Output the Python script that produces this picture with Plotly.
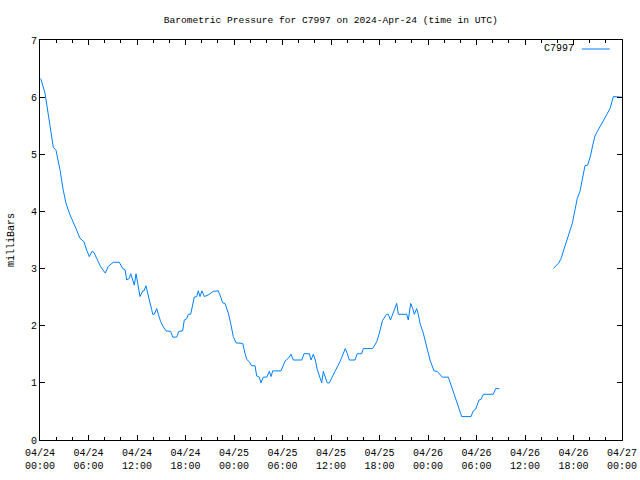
import pandas as pd
import plotly.graph_objects as go

start = pd.Timestamp("2024-04-24 00:00")

# hours since 2024-04-24 00:00 UTC (None = data gap)
hours = [0, 0.12, 0.62, 1.03, 1.32, 1.65, 1.98, 2.47, 2.88, 3.22, 3.71, 4.12, 4.45, 4.95,
         5.44, 5.78, 6.10, 6.43, 6.68, 7.01, 7.51, 8.08, 8.45, 9.07, 9.81, 10.23, 10.52,
         10.73, 11.05, 11.22, 11.47, 11.67, 11.88, 12.04, 12.21, 12.37, 12.71, 12.87, 13.11,
         13.27, 13.52, 13.82, 13.94, 14.14, 14.44, 14.64, 14.93, 15.25, 15.59, 16.17, 16.42,
         16.91, 17.16, 17.65, 17.85, 18.15, 18.35, 18.64, 18.89, 19.09, 19.39, 19.58, 19.79,
         20.04, 20.33, 20.82, 21.44, 22.06, 22.36, 22.60, 22.89, 23.30, 23.59, 23.91, 24.25,
         25.08, 25.36, 25.57, 25.89, 26.19, 26.60, 26.81, 27.13, 27.34, 27.63, 28.05, 28.37,
         28.58, 28.79, 29.81, 30.31, 30.72, 31.05, 31.34, 32.38, 32.66, 33.32, 33.53, 33.81,
         34.06, 34.31, 34.64, 34.85, 35.05, 35.26, 35.54, 35.79, 36.09, 36.49, 37.11, 37.52,
         37.77, 38.02, 38.26, 38.97, 39.25, 39.80, 40.00, 41.16, 41.66, 41.98, 42.37, 42.87,
         43.09, 43.36, 43.71, 44.13, 44.33, 45.37, 45.56, 45.86, 46.11, 46.31, 46.60, 46.80,
         47.01, 47.42, 47.84, 48.25, 48.74, 49.15, 49.77, 50.51, 50.93, 51.34, 51.75, 52.17,
         53.32, 53.60, 53.90, 54.31, 54.56, 54.84, 56.08, 56.37, 56.82,
         None,
         63.50, 64.12, 64.42, 64.95, 65.57, 65.85, 66.19, 66.47, 66.80, 67.14, 67.42, 67.76,
         68.13, 68.38, 68.66, 68.95, 69.28, 69.69, 70.11, 70.52, 70.93, 71.55, 72.0]

pressure = [6.33, 6.31, 6.07, 5.72, 5.43, 5.12, 5.07, 4.73, 4.37, 4.14, 3.94, 3.79, 3.70, 3.53,
            3.47, 3.32, 3.21, 3.30, 3.28, 3.18, 3.03, 2.92, 3.04, 3.11, 3.11, 3.0, 2.98,
            2.80, 2.83, 2.91, 2.77, 2.71, 2.91, 2.77, 2.60, 2.51, 2.61, 2.61, 2.70,
            2.62, 2.45, 2.28, 2.20, 2.20, 2.30, 2.20, 2.07, 1.98, 1.91, 1.90, 1.80,
            1.80, 1.90, 1.91, 2.10, 2.12, 2.20, 2.20, 2.36, 2.50, 2.51, 2.61, 2.51,
            2.61, 2.51, 2.54, 2.60, 2.61, 2.50, 2.40, 2.39, 2.22, 2.04, 1.81, 1.70,
            1.69, 1.52, 1.41, 1.37, 1.30, 1.30, 1.12, 1.10, 1.00, 1.10, 1.10, 1.20,
            1.11, 1.21, 1.21, 1.38, 1.43, 1.50, 1.40, 1.40, 1.51, 1.51, 1.40, 1.50,
            1.40, 1.23, 1.10, 1.00, 1.20, 1.11, 1.00, 1.00, 1.10, 1.20, 1.37, 1.52,
            1.60, 1.51, 1.40, 1.40, 1.51, 1.51, 1.60, 1.60, 1.72, 1.87, 2.09, 2.20,
            2.20, 2.10, 2.25, 2.39, 2.20, 2.20, 2.10, 2.39, 2.30, 2.20, 2.30, 2.20,
            2.04, 1.87, 1.63, 1.40, 1.21, 1.20, 1.10, 1.10, 0.93, 0.76, 0.58, 0.41,
            0.41, 0.51, 0.54, 0.70, 0.71, 0.80, 0.80, 0.90, 0.90,
            None,
            3.0, 3.09, 3.16, 3.38, 3.65, 3.79, 4.03, 4.23, 4.35, 4.61, 4.80, 4.81,
            4.99, 5.16, 5.32, 5.40, 5.48, 5.60, 5.69, 5.80, 6.01, 6.01, 6.0]

times = [None if h is None else start + pd.Timedelta(hours=h) for h in hours]

station = "C7997"
title = "Barometric Pressure for C7997 on 2024-Apr-24 (time in UTC)"
tick_times = [start + pd.Timedelta(hours=6 * i) for i in range(13)]
tick_text = [t.strftime("%m/%d<br>%H:%M") for t in tick_times]

line_color = "#0080ff"
mono = "Liberation Mono"

fig = go.Figure()
fig.add_trace(go.Scatter(x=times, y=pressure, mode="lines", name=station,
                         line=dict(color=line_color, width=1), connectgaps=False,
                         showlegend=False))

fig.update_layout(
    width=640, height=480,
    margin=dict(l=40, r=18, t=40, b=40, autoexpand=False),
    paper_bgcolor="white", plot_bgcolor="white",
    title=dict(text=title, x=0.5168, xanchor="center", y=0.96, yanchor="middle",
               font=dict(family=mono, size=9.6, color="black")),
    font=dict(family=mono, size=10, color="black"),
)
fig.update_xaxes(
    range=[tick_times[0], tick_times[-1]], automargin=False,
    tickvals=tick_times, ticktext=tick_text,
    showgrid=False, zeroline=False,
    showline=True, linecolor="black", linewidth=1, mirror="ticks",
    ticks="inside", ticklen=5, tickcolor="black",
    minor=dict(dtick=2 * 3600 * 1000, ticks="inside", ticklen=3, tickcolor="black", showgrid=False),
    tickfont=dict(family=mono, size=10, color="black"),
    ticklabelstandoff=3,
)
fig.update_yaxes(
    range=[0, 7], dtick=1, tick0=0, automargin=False,
    showgrid=False, zeroline=False,
    showline=True, linecolor="black", linewidth=1, mirror="ticks",
    ticks="inside", ticklen=5, tickcolor="black",
    tickfont=dict(family=mono, size=10, color="black"),
    title=dict(text="milliBars", font=dict(family=mono, size=10, color="black"), standoff=14),
)

# legend entry drawn gnuplot-style: label on the left, line sample on the right
fig.add_annotation(xref="paper", yref="paper", x=0.921, y=0.9775, xanchor="right",
                   yanchor="middle", text=station, showarrow=False,
                   font=dict(family=mono, size=10, color="black"))
fig.add_shape(type="line", xref="paper", yref="paper", x0=0.931, x1=0.979, y0=0.9775, y1=0.9775,
              line=dict(color=line_color, width=1))

fig.write_html("out.html")
